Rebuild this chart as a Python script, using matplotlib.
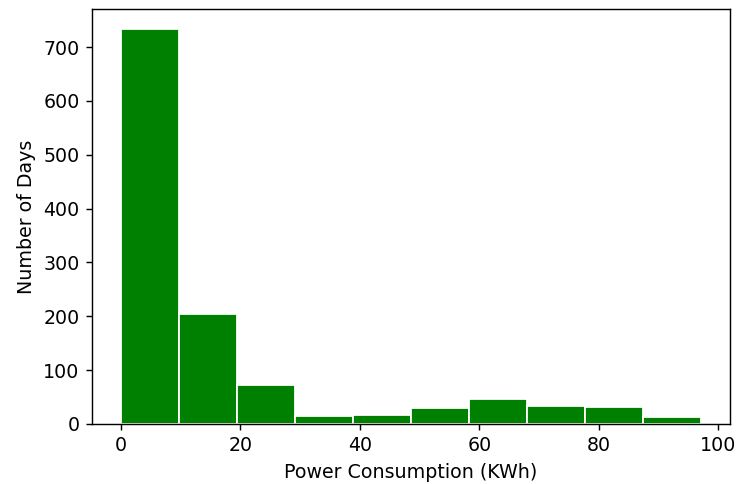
import numpy as np
import matplotlib
matplotlib.use("Agg")
import matplotlib.pyplot as plt

plt.rcParams["font.size"] = 10.7

# Daily power consumption histogram (10 equal-width bins)
bin_edges = np.linspace(0.0, 97.1, 11)
day_counts = [734, 205, 72, 15, 16, 29, 47, 33, 32, 13]

fig = plt.figure(figsize=(737 / 128, 484 / 128), dpi=128)
ax = fig.add_axes([0.1248, 0.124, 0.8657, 0.8574])

widths = np.diff(bin_edges)
ax.bar(bin_edges[:-1], day_counts, width=widths, align="edge",
       color="green", edgecolor="white", linewidth=1.0)

ax.set_xlabel("Power Consumption (KWh)")
ax.set_ylabel("Number of Days")

fig.savefig("out.png", dpi=128)
